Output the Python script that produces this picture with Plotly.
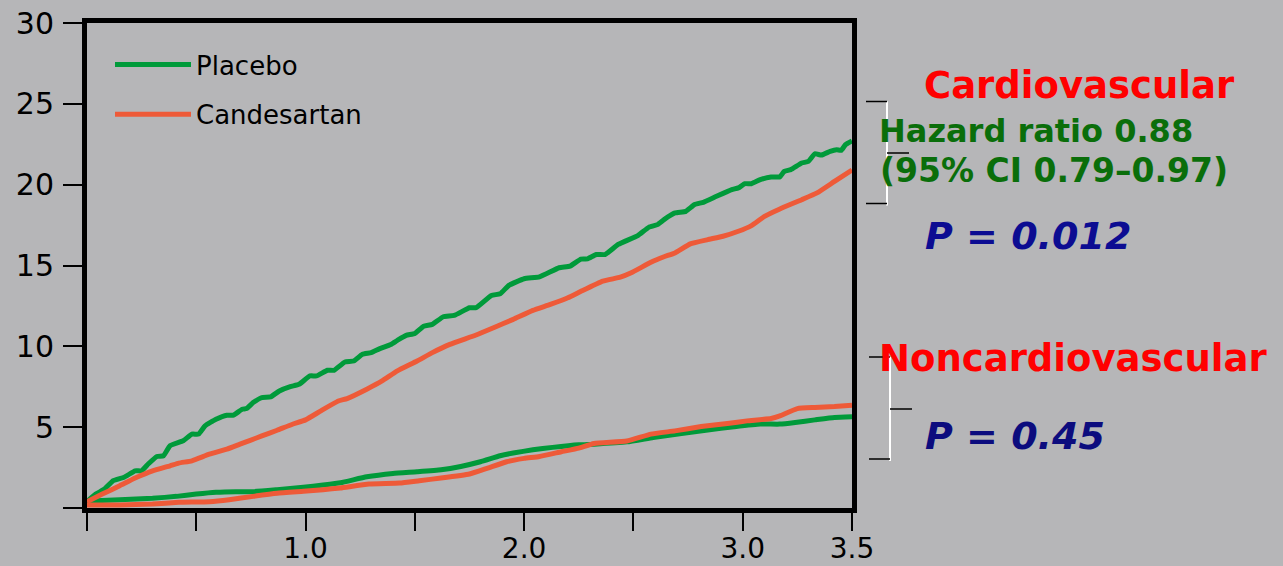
import plotly.graph_objects as go

# ---------------- data ----------------
years_pc = [0, 0.04, 0.08, 0.12, 0.17, 0.22, 0.25, 0.28, 0.32, 0.35, 0.38, 0.44, 0.48, 0.51, 0.54, 0.59,
            0.64, 0.67, 0.71, 0.73, 0.76, 0.80, 0.84, 0.88, 0.93, 0.97, 1.02, 1.05, 1.10, 1.13, 1.18,
            1.22, 1.26, 1.30, 1.34, 1.39, 1.42, 1.46, 1.50, 1.54, 1.58, 1.63, 1.68, 1.75, 1.78, 1.85,
            1.89, 1.93, 2.00, 2.07, 2.16, 2.21, 2.26, 2.29, 2.33, 2.37, 2.43, 2.52, 2.57, 2.61, 2.64,
            2.69, 2.74, 2.78, 2.82, 2.88, 2.95, 2.98, 3.01, 3.04, 3.08, 3.13, 3.17, 3.19, 3.22, 3.27,
            3.30, 3.33, 3.36, 3.40, 3.43, 3.45, 3.47, 3.50]
placebo_cv = [0.40, 0.86, 1.17, 1.69, 1.90, 2.30, 2.30, 2.72, 3.19, 3.23, 3.85, 4.16, 4.57, 4.57, 5.08, 5.49,
              5.74, 5.74, 6.11, 6.15, 6.52, 6.83, 6.87, 7.24, 7.51, 7.65, 8.17, 8.17, 8.52, 8.52, 9.03,
              9.09, 9.51, 9.61, 9.86, 10.12, 10.37, 10.68, 10.80, 11.25, 11.36, 11.83, 11.91, 12.39, 12.39, 13.15,
              13.25, 13.77, 14.18, 14.30, 14.86, 14.96, 15.40, 15.41, 15.68, 15.68, 16.30, 16.85, 17.36, 17.53, 17.84,
              18.25, 18.35, 18.77, 18.91, 19.28, 19.69, 19.80, 20.06, 20.06, 20.31, 20.48, 20.48, 20.82, 20.93, 21.34,
              21.44, 21.91, 21.83, 22.06, 22.16, 22.12, 22.47, 22.70]

years_cc = [0, 0.07, 0.15, 0.22, 0.30, 0.38, 0.42, 0.48, 0.56, 0.64, 0.70, 0.75, 0.80, 0.87, 0.94, 1.00,
            1.07, 1.15, 1.19, 1.28, 1.35, 1.42, 1.51, 1.58, 1.66, 1.78, 1.86, 1.95, 2.04, 2.12, 2.20,
            2.26, 2.36, 2.44, 2.49, 2.58, 2.64, 2.69, 2.76, 2.84, 2.91, 2.98, 3.04, 3.10, 3.17, 3.27,
            3.34, 3.42, 3.50]
candes_cv = [0.39, 0.86, 1.38, 1.85, 2.30, 2.61, 2.78, 2.92, 3.33, 3.64, 3.95, 4.20, 4.46, 4.81, 5.18, 5.45,
             6.01, 6.62, 6.77, 7.35, 7.86, 8.48, 9.09, 9.61, 10.12, 10.70, 11.15, 11.67, 12.22, 12.59, 13.00,
             13.40, 14.03, 14.28, 14.55, 15.20, 15.54, 15.78, 16.34, 16.60, 16.81, 17.12, 17.47, 18.04, 18.50, 19.07,
             19.49, 20.20, 20.90]

years_pn = [0, 0.04, 0.15, 0.30, 0.41, 0.50, 0.59, 0.68, 0.76, 0.87, 0.99, 1.08, 1.16, 1.28, 1.40, 1.51,
            1.62, 1.71, 1.80, 1.89, 1.95, 2.04, 2.13, 2.25, 2.32, 2.47, 2.59, 2.72, 2.84, 2.96, 3.08,
            3.17, 3.24, 3.33, 3.42, 3.50]
placebo_ncv = [0.40, 0.45, 0.51, 0.60, 0.72, 0.86, 0.97, 1.01, 1.01, 1.13, 1.28, 1.42, 1.56, 1.93, 2.14, 2.24,
               2.36, 2.57, 2.86, 3.23, 3.40, 3.60, 3.75, 3.91, 3.95, 4.09, 4.36, 4.61, 4.83, 5.02, 5.19,
               5.19, 5.29, 5.45, 5.60, 5.64]

years_cn = [0, 0.15, 0.30, 0.42, 0.56, 0.65, 0.76, 0.87, 0.99, 1.08, 1.16, 1.29, 1.43, 1.52, 1.62, 1.75,
            1.83, 1.92, 2.00, 2.07, 2.17, 2.25, 2.32, 2.47, 2.58, 2.69, 2.81, 2.93, 3.02, 3.13, 3.17,
            3.25, 3.33, 3.42, 3.50]
candes_ncv = [0.18, 0.19, 0.25, 0.35, 0.39, 0.51, 0.72, 0.91, 1.03, 1.13, 1.24, 1.48, 1.54, 1.69, 1.85, 2.10,
              2.45, 2.86, 3.07, 3.19, 3.48, 3.70, 3.99, 4.14, 4.57, 4.77, 5.04, 5.23, 5.39, 5.54, 5.70,
              6.15, 6.22, 6.28, 6.36]

x_tickvals = [0, 0.5, 1.0, 1.5, 2.0, 2.5, 3.0, 3.5]
x_ticktext = ["", "", "1.0", "", "2.0", "", "3.0", "3.5"]
y_tickvals = [0, 5, 10, 15, 20, 25, 30]
y_ticktext = ["", "5", "10", "15", "20", "25", "30"]

GREEN = "#009a3a"
ORANGE = "#ee5a38"
BG = "#b6b6b8"

# ---------------- layout geometry (pixels) ----------------
W, H = 1283, 566
L, R, T, B = 87, 431, 23, 58
PW, PH = W - L - R, H - T - B


def px(x):
    return (x - L) / PW


def py(y):
    return (H - B - y) / PH


fig = go.Figure()
line_style = dict(width=5, shape="spline", smoothing=0.4)
fig.add_trace(go.Scatter(x=years_pc, y=placebo_cv, mode="lines", name="Placebo",
                         line=dict(color=GREEN, **line_style), legendgroup="p"))
fig.add_trace(go.Scatter(x=years_pn, y=placebo_ncv, mode="lines", name="Placebo",
                         line=dict(color=GREEN, **line_style), legendgroup="p", showlegend=False))
fig.add_trace(go.Scatter(x=years_cn, y=candes_ncv, mode="lines", name="Candesartan",
                         line=dict(color=ORANGE, **line_style), legendgroup="c", showlegend=False))
fig.add_trace(go.Scatter(x=years_cc, y=candes_cv, mode="lines", name="Candesartan",
                         line=dict(color=ORANGE, **line_style), legendgroup="c"))

FONT = "DejaVu Sans"

annotations = [
    dict(text="<b>Cardiovascular</b>", x=px(1079), y=py(85), xanchor="center",
         font=dict(color="#ff0000", size=37)),
    dict(text="<b>Hazard ratio 0.88</b>", x=px(877), y=py(131), xanchor="left",
         font=dict(color="#0a6e0a", size=32)),
    dict(text="<b>(95% CI 0.79\u20130.97)</b>", x=px(878), y=py(170), xanchor="left",
         font=dict(color="#0a6e0a", size=33)),
    dict(text="<b><i>P = 0.012</i></b>", x=px(923), y=py(236), xanchor="left",
         font=dict(color="#0c0c92", size=38)),
    dict(text="<b>Noncardiovascular</b>", x=px(877), y=py(358), xanchor="left",
         font=dict(color="#ff0000", size=37)),
    dict(text="<b><i>P = 0.45</i></b>", x=px(923), y=py(436), xanchor="left",
         font=dict(color="#0c0c7e", size=38)),
]
for a in annotations:
    a.update(xref="paper", yref="paper", yanchor="middle", showarrow=False,
             font=dict(family=FONT, **a["font"]))

shapes = []
# brackets next to the annotations
for (xv, y0, ym, y1) in [(887, 101.5, 153, 203.5), (890, 357, 409, 459)]:
    shapes.append(dict(type="line", xref="paper", yref="paper", x0=px(xv), x1=px(xv),
                       y0=py(y0), y1=py(y1 + 2), line=dict(color="white", width=2)))
    shapes.append(dict(type="line", xref="paper", yref="paper", x0=px(xv - 21), x1=px(xv),
                       y0=py(y0), y1=py(y0), line=dict(color="black", width=1.5)))
    shapes.append(dict(type="line", xref="paper", yref="paper", x0=px(xv), x1=px(xv + 22),
                       y0=py(ym), y1=py(ym), line=dict(color="black", width=1.5)))
    shapes.append(dict(type="line", xref="paper", yref="paper", x0=px(xv - 21), x1=px(xv),
                       y0=py(y1), y1=py(y1), line=dict(color="black", width=1.5)))

fig.update_layout(
    width=W, height=H,
    margin=dict(l=L, r=R, t=T, b=B, pad=0, autoexpand=False),
    paper_bgcolor=BG, plot_bgcolor=BG,
    font=dict(family=FONT, color="black"),
    showlegend=True,
    legend=dict(x=px(110), y=py(41), xanchor="left", yanchor="top",
                bgcolor="rgba(0,0,0,0)", borderwidth=0,
                font=dict(family=FONT, size=26, color="black"),
                itemwidth=76, tracegroupgap=13, traceorder="grouped"),
    annotations=annotations,
    shapes=shapes,
    xaxis=dict(range=[0, 3.5], tickvals=x_tickvals, ticktext=x_ticktext, automargin=False,
               showgrid=False, zeroline=False, showline=True, linecolor="black",
               linewidth=5, mirror=True, ticks="outside", ticklen=18, tickwidth=2,
               tickcolor="black", ticklabelstandoff=-7,
               tickfont=dict(family=FONT, size=28, color="black")),
    yaxis=dict(range=[0, 30], tickvals=y_tickvals, ticktext=y_ticktext, automargin=False,
               showgrid=False, zeroline=False, showline=True, linecolor="black",
               linewidth=5, mirror=True, ticks="outside", ticklen=19, tickwidth=1.5,
               tickcolor="black", ticklabelstandoff=3,
               tickfont=dict(family=FONT, size=30, color="black")),
)

fig.write_html("out.html")
